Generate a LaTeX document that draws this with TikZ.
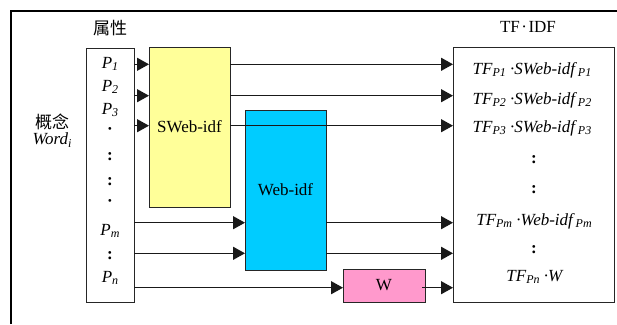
\documentclass[tikz,border=0pt]{standalone}
\usepackage{fontspec}
\setmainfont{Liberation Serif}
\newfontfamily\cjk{Noto Sans CJK SC}
\usetikzlibrary{arrows.meta}

% small lowered index used in the labels
\newcommand{\lowsub}[1]{\raisebox{-0.35ex}{\fontsize{12}{12}\selectfont #1}}

\definecolor{sheetyellow}{HTML}{FFFF99}
\definecolor{sheetblue}{HTML}{00CCFF}
\definecolor{sheetpink}{HTML}{FF99CC}

\begin{document}
\begin{tikzpicture}[x=1pt,y=-1pt,
  every node/.style={font=\fontsize{17}{20}\selectfont, inner sep=0pt, outer sep=0pt},
  block/.style={draw=black!85, line width=1pt, anchor=center},
  lbl/.style={anchor=center},
  arr/.style={line width=1.3pt, draw=black!90, -{Triangle[length=12pt,width=13pt]}},
]
\useasboundingbox (0,0) rectangle (617,324);

% page frame (top and left edges)
\draw[line width=2pt] (11.3,324) -- (11.3,11.3) -- (617,11.3);

% blocks
\node[block, minimum width=48pt,  minimum height=254pt] (prop)  at (110,175) {};
\node[block, fill=sheetyellow, minimum width=81pt, minimum height=160pt] (sweb) at (189.5,127) {SWeb-idf};
\node[block, fill=sheetblue,   minimum width=81pt, minimum height=160pt] (web)  at (285.5,190) {Web-idf};
\node[block, fill=sheetpink,   minimum width=82pt, minimum height=33pt]  (w)    at (384,285.5) {W};
\node[block, minimum width=161pt, minimum height=255pt] (tf) at (533.5,174.5) {};

% headings
\node[lbl] (hprop) at (110,28) {\cjk 属性};
\node[lbl] (htf)   at (528,27) {TF\kern1.5pt·\kern1.5pt IDF};
\node[lbl] (concept) at (52,122) {\cjk 概念};
\node[lbl] (word)    at (52,140) {\textit{Word\lowsub{i}}};

% attribute column
\node[lbl] (p1) at (110,64)  {\textit{P\lowsub{1}}};
\node[lbl] (p2) at (110,87)  {\textit{P\lowsub{2}}};
\node[lbl] (p3) at (110,110) {\textit{P\lowsub{3}}};
\node[lbl] (d1) at (110,131) {\textbf{·}};
\node[lbl] (c1) at (110,157) {\textbf{:}};
\node[lbl] (c2) at (110,182) {\textbf{:}};
\node[lbl] (d2) at (110,203) {\textbf{·}};
\node[lbl] (pm) at (110,231) {\textit{P\lowsub{m}}};
\node[lbl] (c3) at (110,256) {\textbf{:}};
\node[lbl] (pn) at (110,278) {\textit{P\lowsub{n}}};

% result column
\node[lbl] (t1) at (532,70)  {\textit{TF\lowsub{P1} ·SWeb-idf\,\lowsub{P1}}};
\node[lbl] (t2) at (532,100) {\textit{TF\lowsub{P2} ·SWeb-idf\,\lowsub{P2}}};
\node[lbl] (t3) at (532,128) {\textit{TF\lowsub{P3} ·SWeb-idf\,\lowsub{P3}}};
\node[lbl] (tc1) at (534,160) {\textbf{:}};
\node[lbl] (tc2) at (534,190) {\textbf{:}};
\node[lbl] (tm) at (534,221) {\textit{TF\lowsub{Pm} ·Web-idf\,\lowsub{Pm}}};
\node[lbl] (tc3) at (534,250) {\textbf{:}};
\node[lbl] (tn) at (535,277) {\textit{TF\lowsub{Pn} ·W}};

% row levels of the connectors
\coordinate (r1) at (0,64.3);
\coordinate (r2) at (0,95.7);
\coordinate (r3) at (0,125.7);
\coordinate (rm) at (0,222.7);
\coordinate (rk) at (0,253.3);
\coordinate (rn) at (0,287.7);

% connectors
\foreach \r in {r1,r2,r3} {
  \draw[arr] (prop.east |- \r) -- (sweb.west |- \r);
  \draw[arr] (sweb.east |- \r) -- (tf.west |- \r);
}
\foreach \r in {rm,rk} {
  \draw[arr] (prop.east |- \r) -- (web.west |- \r);
  \draw[arr] (web.east |- \r) -- (tf.west |- \r);
}
\draw[arr] (prop.east |- rn) -- (w.west |- rn);
\draw[arr] ([xshift=-3pt]w.east |- rn) -- (tf.west |- rn);
\end{tikzpicture}
\end{document}
